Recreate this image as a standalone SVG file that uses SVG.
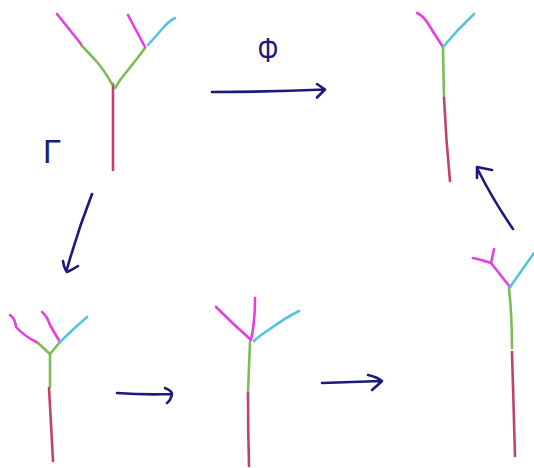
<svg xmlns="http://www.w3.org/2000/svg" width="534" height="468" viewBox="0 0 534 468">
<style>
.s{fill:none;stroke-width:2.6;stroke-linecap:round;stroke-linejoin:round}
.r{stroke:#c2416b}.g{stroke:#7cbc54}.m{stroke:#e63ee0}.c{stroke:#56c4dc}
.a{fill:none;stroke:#1b1a7c;stroke-width:2.6;stroke-linecap:round;stroke-linejoin:round}
.t{fill:#1b1a7c;font-family:"Liberation Sans",Arial,sans-serif}
</style>
<rect width="534" height="468" fill="#fff"/>
<g id="tree-top-left">
<path class="s r" d="M113 84 L113 170"/>
<path class="s g" d="M112 84 Q104 70 97 62 Q88 52 81 45"/>
<path class="s g" d="M115 88 Q121 78 128 70 Q137 59 145 48"/>
<path class="s m" d="M81 44 L57 14"/>
<path class="s m" d="M145 47 L128 15"/>
<path class="s c" d="M148 45 Q156 36 163 28 Q169 21 175 18"/>
</g>
<g id="tree-top-right">
<path class="s m" d="M417 13 Q423 16 427 22 Q435 35 443 47"/>
<path class="s c" d="M443 47 Q458 29 474 14"/>
<path class="s g" d="M443 48 L444 98"/>
<path class="s r" d="M444 98 Q446 140 450 181"/>
</g>
<g id="tree-bottom-left">
<path class="s m" d="M10 315 Q15 318 16 327 Q24 336 38 343"/>
<path class="s m" d="M42 312 Q47 316 50 325 Q55 334 60 342"/>
<path class="s g" d="M38 343 L50 354 L60 342"/>
<path class="s c" d="M60 342 Q73 329 87 317"/>
<path class="s g" d="M50 354 L50 387"/>
<path class="s r" d="M49 388 L53 461"/>
</g>
<g id="tree-bottom-middle">
<path class="s m" d="M216 307 Q233 324 250 339"/>
<path class="s m" d="M255 298 Q255 322 251 340"/>
<path class="s c" d="M254 341 Q259 336 270 329 Q285 318 299 311"/>
<path class="s g" d="M250 342 L248 392"/>
<path class="s r" d="M248 393 Q248 430 249 466"/>
</g>
<g id="tree-right">
<path class="s m" d="M473 258 Q483 260 491 263 M491 263 L494 249 M491 263 L510 287"/>
<path class="s c" d="M510 287 Q522 270 534 253"/>
<path class="s g" d="M509 288 Q512 316 512 348"/>
<path class="s r" d="M512 352 L515 456"/>
</g>
<g id="connectors">
<path class="a" d="M212 92 Q270 92 325 89.5 M317 84 L325 89.5 L317 97.5"/>
<path class="a" d="M92 194 Q78 230 67 269 M63 261 Q64 268 67 272 Q72 270 78 266"/>
<path class="a" d="M117 393 Q145 395 172 394 M165 388 Q172 391 172 394 Q171 400 167 403"/>
<path class="a" d="M322 383 Q352 382 382 381 M368 375 Q377 377 382 381 Q378 385 372 390"/>
<path class="a" d="M513 229 Q493 200 477 168 M477 178 L477 167 L492 170"/>
</g>
<g id="labels">
<text class="t" transform="translate(268 62) scale(0.75 1)" font-size="35" text-anchor="middle">Φ</text>
<text class="t" x="43" y="163" font-size="33">Γ</text>
</g>
</svg>
